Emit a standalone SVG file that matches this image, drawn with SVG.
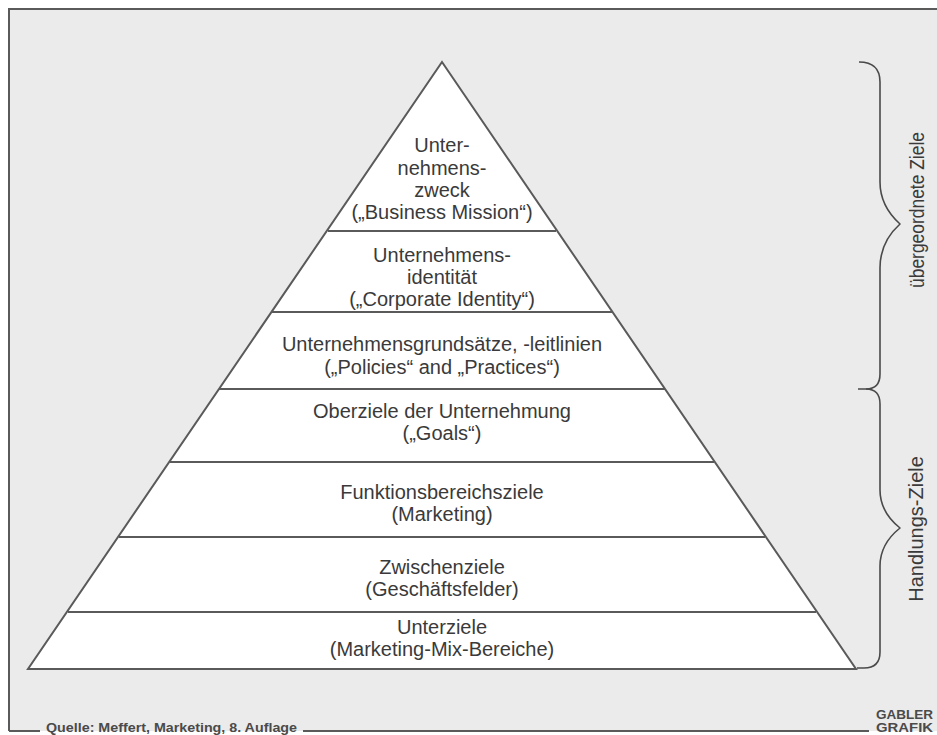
<svg xmlns="http://www.w3.org/2000/svg" width="937" height="735" viewBox="0 0 937 735">
<style>
.t{font-family:"Liberation Sans",Arial,sans-serif;font-size:20px;fill:#3a3a3a;text-anchor:middle}
.f{font-family:"Liberation Sans",Arial,sans-serif;font-weight:bold;font-size:12px;fill:#4a4a4a}
.ln{stroke:#5a5a5a;stroke-width:2;fill:none}
.br{stroke:#4a4a4a;stroke-width:1.6;fill:none;stroke-linejoin:round}
</style>
<rect x="0" y="0" width="937" height="735" fill="#ffffff"/>
<rect x="9" y="9" width="928" height="722" fill="#ebebeb"/>
<g id="frame">
<path class="ln" d="M9,731 L9,9 L937,9"/>
<path class="ln" d="M9,731 L40,731 M303,731 L869,731"/>
<text class="f" x="46" y="731.5" textLength="251" lengthAdjust="spacingAndGlyphs">Quelle: Meffert, Marketing, 8. Auflage</text>
<text class="f" x="876" y="719" textLength="57" lengthAdjust="spacingAndGlyphs">GABLER</text>
<text class="f" x="876" y="732" textLength="57" lengthAdjust="spacingAndGlyphs">GRAFIK</text>
</g>
<g id="pyramid">
<polygon points="442,62 856,669 28,669" fill="#ffffff" stroke="#5a5a5a" stroke-width="2" stroke-linejoin="miter"/>
</g>
<g id="connectors">
<line class="ln" x1="328" y1="231" x2="556" y2="231"/>
<line class="ln" x1="272" y1="312" x2="612" y2="312"/>
<line class="ln" x1="219" y1="389" x2="665" y2="389"/>
<line class="ln" x1="170" y1="462" x2="714" y2="462"/>
<line class="ln" x1="119" y1="537" x2="765" y2="537"/>
<line class="ln" x1="68" y1="612" x2="816" y2="612"/>
</g>
<g id="level1">
<text class="t" x="442" y="152">Unter-</text>
<text class="t" x="442" y="175">nehmens-</text>
<text class="t" x="442" y="197">zweck</text>
<text class="t" x="442" y="219">(„Business Mission“)</text>
</g>
<g id="level2">
<text class="t" x="442" y="262">Unternehmens-</text>
<text class="t" x="442" y="284">identität</text>
<text class="t" x="442" y="306">(„Corporate Identity“)</text>
</g>
<g id="level3">
<text class="t" x="442" y="351">Unternehmensgrundsätze, -leitlinien</text>
<text class="t" x="442" y="374">(„Policies“ and „Practices“)</text>
</g>
<g id="level4">
<text class="t" x="442" y="418">Oberziele der Unternehmung</text>
<text class="t" x="442" y="440">(„Goals“)</text>
</g>
<g id="level5">
<text class="t" x="442" y="499">Funktionsbereichsziele</text>
<text class="t" x="442" y="521">(Marketing)</text>
</g>
<g id="level6">
<text class="t" x="442" y="574">Zwischenziele</text>
<text class="t" x="442" y="596">(Geschäftsfelder)</text>
</g>
<g id="level7">
<text class="t" x="442" y="634">Unterziele</text>
<text class="t" x="442" y="656">(Marketing-Mix-Bereiche)</text>
</g>
<g id="brace-upper">
<path class="br" d="M859,62 Q880,62 880,82 L880,182 Q880,206 900,224 Q880,242 880,268 L880,374 Q880,389 866,389 L858,389"/>
<text class="t" transform="translate(924,210) rotate(-90)" textLength="156" lengthAdjust="spacingAndGlyphs">übergeordnete Ziele</text>
</g>
<g id="brace-lower">
<path class="br" d="M866,389 Q880,389 880,404 L880,490 Q880,512 900,528 Q880,544 880,566 L880,652 Q880,668 864,668 L857,668"/>
<text class="t" transform="translate(923,529) rotate(-90)">Handlungs-Ziele</text>
</g>
</svg>
